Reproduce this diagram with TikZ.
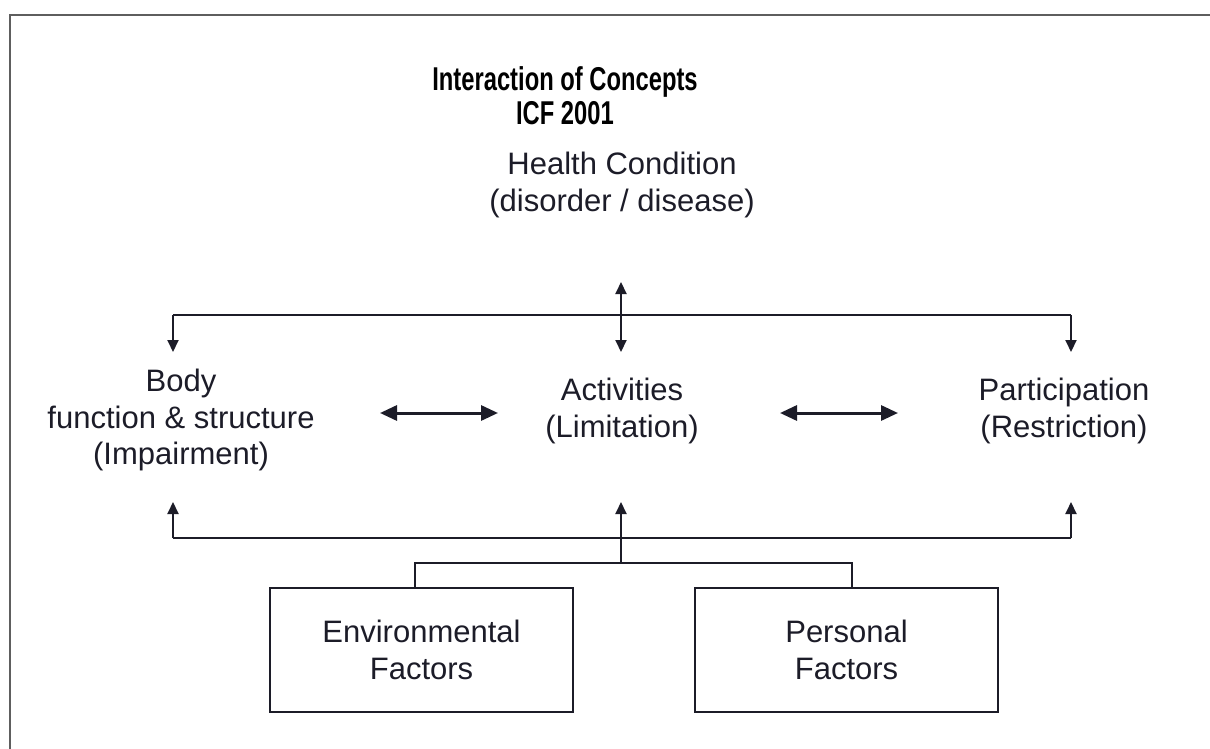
\documentclass[tikz,border=0pt]{standalone}
\usepackage{fontspec}
\setmainfont{Liberation Sans}
\newfontfamily\titlefont{Liberation Sans}[FakeStretch=0.72]
\usetikzlibrary{arrows.meta}
\definecolor{ink}{HTML}{1C1C28}
\definecolor{framegray}{HTML}{5E5E5E}
\tikzset{
  txt/.style={inner sep=0pt, align=center, font=\fontsize{31}{36.5}\selectfont, text=ink},
  ttl/.style={inner sep=0pt, align=center, font=\titlefont\fontsize{33}{34}\selectfont\bfseries, text=black},
  conn/.style={draw=ink, line width=2pt},
  tip/.style={conn, -{Triangle[length=12pt,width=11pt]}},
  dbl/.style={draw=ink, line width=3pt, {Triangle[length=17pt,width=15pt]}-{Triangle[length=17pt,width=15pt]}},
  fbox/.style={draw=ink, line width=2pt, minimum width=303pt, minimum height=124pt, inner sep=0pt, align=center, font=\fontsize{31}{36.5}\selectfont, text=ink}
}
\begin{document}
\begin{tikzpicture}[x=1pt,y=-1pt]
\useasboundingbox (0,0) rectangle (1210,749);
\fill[white] (0,0) rectangle (1210,749);
% frame
\draw[framegray, line width=2.5pt] (1212,15) -- (10,15) -- (10,751);
% title
\node[ttl] (title) at (565,96) {Interaction of Concepts\\ICF 2001};
% texts
\node[txt] (health) at (622,185) {Health Condition\\(disorder / disease)};
\node[txt] (body) at (181,420) {Body\\function \& structure\\(Impairment)};
\node[txt] (act) at (622,411) {Activities\\(Limitation)};
\node[txt] (part) at (1064,411) {Participation\\(Restriction)};
\node[fbox] (env) at (421.5,650) {Environmental\\Factors};
\node[fbox] (pers) at (846.5,650) {Personal\\Factors};
% coordinates
\coordinate (hTop) at (621,282);
\coordinate (hMid) at (621,315);
\coordinate (hBot) at (621,352);
\coordinate (lTop) at (173,315);
\coordinate (lBot) at (173,352);
\coordinate (rTop) at (1071,315);
\coordinate (rBot) at (1071,352);
\coordinate (a1) at (380,413);
\coordinate (a2) at (498,413);
\coordinate (b1) at (780,413);
\coordinate (b2) at (898,413);
\coordinate (lUp) at (173,502);
\coordinate (lLow) at (173,538);
\coordinate (mUp) at (621,502);
\coordinate (mLow) at (621,538);
\coordinate (rUp) at (1071,502);
\coordinate (rLow) at (1071,538);
\coordinate (mJoin) at (621,563);
\coordinate (eJoin) at (415,563);
\coordinate (pJoin) at (852,563);
\coordinate (eTop) at (415,588);
\coordinate (pTop) at (852,588);
% top connectors
\draw[conn] (lTop) -- (rTop);
\draw[conn, {Triangle[length=12pt,width=11pt]}-{Triangle[length=12pt,width=11pt]}] (hTop) -- (hBot);
\draw[tip] (lTop) -- (lBot);
\draw[tip] (rTop) -- (rBot);
% horizontal double arrows
\draw[dbl] (a1) -- (a2);
\draw[dbl] (b1) -- (b2);
% bottom connectors
\draw[conn] (lLow) -- (rLow);
\draw[tip] (lLow) -- (lUp);
\draw[tip] (mLow) -- (mUp);
\draw[tip] (rLow) -- (rUp);
\draw[conn] (mLow) -- (mJoin);
\draw[conn] (eTop) -- (eJoin) -- (pJoin) -- (pTop);
\end{tikzpicture}
\end{document}
